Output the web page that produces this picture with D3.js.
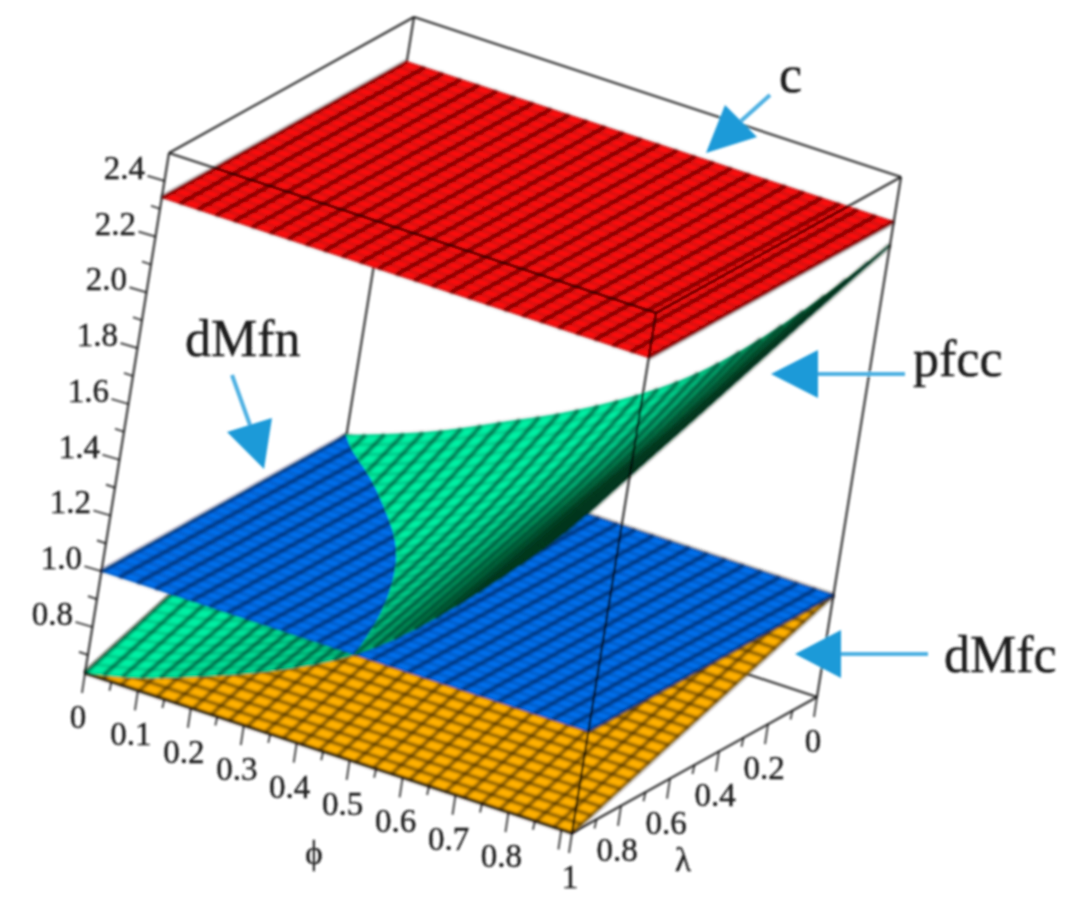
<!DOCTYPE html>
<html>
<head>
<meta charset="utf-8">
<script src="https://cdn.jsdelivr.net/npm/d3@7"></script>
<style>
  html, body { margin: 0; padding: 0; background: #fff; }
  text { font-family: "Liberation Serif", serif; fill: #1c1c1c; stroke: #1c1c1c; stroke-width: 0.4; }
</style>
</head>
<body>
<div id="chart"></div>
<script>
// axis ticks, as printed on the plot
var phiTicks = [0, 0.1, 0.2, 0.3, 0.4, 0.5, 0.6, 0.7, 0.8];
var phiMinor = [0.05, 0.15, 0.25, 0.35, 0.45, 0.55, 0.65, 0.75, 0.85, 0.9];
var phiEnd = 0.92;
var lamTicks = [0, 0.2, 0.4, 0.6, 0.8];
var lamMinor = [0.1, 0.3, 0.5, 0.7, 0.9];
var zTicks = [0.8, 1.0, 1.2, 1.4, 1.6, 1.8, 2.0, 2.2, 2.4];
var zMinor = [0.7, 0.9, 1.1, 1.3, 1.5, 1.7, 1.9, 2.1, 2.3];
var zRange = [0.635, 2.5];

// surface heights
var lamEnds = [0, 1];
var cValues = [2.34, 2.34];
var dMfnValues = [1.0, 1.0];
var dMfcValues = [1.0, 0.635];

var phiGrid = [0, 0.092, 0.184, 0.276, 0.368, 0.46, 0.552, 0.644, 0.736, 0.828, 0.92];
var lamGrid = [0, 0.2, 0.4, 0.6, 0.8, 1];
var pfccLam0 = [1.000, 1.060, 1.130, 1.220, 1.300, 1.400, 1.510, 1.650, 1.830, 2.030, 2.256];
var pfccLam2 = [0.927, 0.955, 1.020, 1.096, 1.176, 1.274, 1.388, 1.544, 1.736, 1.946, 2.190];
var pfccLam4 = [0.854, 0.885, 0.930, 0.992, 1.072, 1.168, 1.296, 1.458, 1.652, 1.872, 2.124];
var pfccLam6 = [0.781, 0.805, 0.850, 0.918, 0.998, 1.092, 1.224, 1.392, 1.588, 1.798, 2.058];
var pfccLam8 = [0.708, 0.735, 0.790, 0.854, 0.934, 1.026, 1.162, 1.326, 1.524, 1.734, 1.992];
var pfccLam10 = [0.635, 0.670, 0.736, 0.800, 0.880, 0.970, 1.100, 1.270, 1.460, 1.660, 1.926];

var W = 1077, H = 922, cells = 27;

var svg = d3.select("#chart").append("svg")
  .attr("width", W)
  .attr("height", H);

var defs = svg.append("defs");
function blurDef(id, amount) {
  defs.append("filter").attr("id", id)
    .attr("filterUnits", "userSpaceOnUse")
    .attr("x", 0).attr("y", 0)
    .attr("width", W).attr("height", H)
    .append("feGaussianBlur").attr("stdDeviation", amount);
}
blurDef("soft", 0.8);
blurDef("meshSoft", 0.9);

var root = svg.append("g").attr("filter", "url(#soft)");

// the box is a plain affine projection, one pair of scales per axis
var originX = 85, originY = 673;
var phiX = d3.scaleLinear().domain([0, phiEnd]).range([0, 487]);
var phiY = d3.scaleLinear().domain([0, phiEnd]).range([0, 160]);
var lamX = d3.scaleLinear().domain([1, 0]).range([0, 245]);
var lamY = d3.scaleLinear().domain([1, 0]).range([0, -136]);
var zX = d3.scaleLinear().domain(zRange).range([0, 84]);
var zY = d3.scaleLinear().domain(zRange).range([0, -520]);

function project(phi, lam, z) {
  return [originX + phiX(phi) + lamX(lam) + zX(z),
          originY + phiY(phi) + lamY(lam) + zY(z)];
}
function toScreen(p) { return project(p[0], p[1], p[2]); }

var line = d3.line();

function lamFlat(values) {
  var s = d3.scaleLinear().domain(lamEnds).range(values);
  return function(phi, lam) { return s(lam); };
}

var pfccRows = [pfccLam0, pfccLam2, pfccLam4, pfccLam6, pfccLam8, pfccLam10].map(function(r) {
  return d3.interpolateBasis(r);
});
function pfcc(phi, lam) {
  var t = phi / phiEnd;
  return d3.interpolateBasis(pfccRows.map(function(f) { return f(t); }))(lam / lamGrid[lamGrid.length-1]);
}

var greenShade = d3.scaleLinear()
  .domain([-0.1, 0.3, 0.42, 0.72, 1.15])
  .range(["#002e14", "#004a22", "#078a50", "#00c284", "#00f0a4"])
  .clamp(true);

// cut a polygon or a segment against the plane z = level, keeping one side
function clipZ(pts, level, above, closed) {
  var out = [], n = pts.length, m = closed ? n : n - 1;
  function inside(p) { return above ? p[2] >= level : p[2] <= level; }
  if (!closed && inside(pts[0])) out.push(pts[0]);
  for (var i = 0; i < m; i++) {
    var a = pts[i], b = pts[(i + 1) % n];
    if (inside(a) !== inside(b)) {
      var t = (level - a[2]) / (b[2] - a[2]);
      out.push([a[0] + t * (b[0] - a[0]), a[1] + t * (b[1] - a[1]), level]);
    }
    if (inside(b)) out.push(b);
  }
  return out;
}

var flatArea = Math.abs(d3.polygonArea([
  project(0, 1, 1), project(phiEnd / cells, 1, 1),
  project(phiEnd / cells, 1 - 1 / cells, 1), project(0, 1 - 1 / cells, 1)
]));

function drawSurface(f, opt) {
  var g = root.append("g").attr("class", opt.name);
  var along = "", across = "";
  var cut = function(pts, closed) {
    return opt.side === undefined ? pts : clipZ(pts, dMfnValues[0], opt.side, closed);
  };
  var phiAt = function(i) { return phiEnd * i / cells; };
  var lamAt = function(j) { return j / cells; };
  var cellList = [];
  d3.range(cells).forEach(function(i) {
    d3.range(cells).forEach(function(j) {
      var q = [[phiAt(i), lamAt(j)], [phiAt(i + 1), lamAt(j)], [phiAt(i + 1), lamAt(j + 1)], [phiAt(i), lamAt(j + 1)]]
        .map(function(p) { return [p[0], p[1], f(p[0], p[1])]; });
      var poly = cut(q, true);
      if (poly.length < 3) return;
      cellList.push({
        poly: poly,
        depth: d3.mean(q, function(p) { return p[2]; }),
        fill: opt.color || greenShade(-d3.polygonArea(q.map(toScreen)) / flatArea)
      });
    });
  });
  // seen from above, the higher cell goes on top
  cellList.sort(function(a, b) { return d3.ascending(a.depth, b.depth); });
  g.selectAll("path.cell")
    .data(cellList)
    .enter()
    .append("path")
    .attr("class", "cell")
    .attr("d", function(d) { return line(d.poly.map(toScreen)) + "Z"; })
    .attr("fill", function(d) { return d.fill; })
    .attr("stroke", function(d) { return d.fill; })
    .attr("stroke-width", 0.7);

  d3.range(cells + 1).forEach(function(i) {
    d3.range(cells).forEach(function(j) {
      var a = [phiAt(i), lamAt(j)], b = [phiAt(i), lamAt(j + 1)];
      var s = cut([[a[0], a[1], f(a[0], a[1])], [b[0], b[1], f(b[0], b[1])]], false);
      if (s.length === 2) along += line(s.map(toScreen));
      a = [phiAt(j), lamAt(i)];
      b = [phiAt(j + 1), lamAt(i)];
      s = cut([[a[0], a[1], f(a[0], a[1])], [b[0], b[1], f(b[0], b[1])]], false);
      if (s.length === 2) across += line(s.map(toScreen));
    });
  });
  var mesh = g.append("g").attr("filter", "url(#meshSoft)");
  mesh.append("path").attr("d", across)
    .attr("fill", "none").attr("stroke", opt.lineColor)
    .attr("stroke-opacity", opt.acrossOpacity)
    .attr("stroke-width", opt.acrossWidth);
  mesh.append("path").attr("d", along)
    .attr("fill", "none").attr("stroke", opt.lineColor)
    .attr("stroke-opacity", opt.alongOpacity)
    .attr("stroke-width", opt.alongWidth);
}

function boxEdge(g, a, b) {
  g.append("path")
    .attr("d", line([toScreen(a), toScreen(b)]))
    .attr("fill", "none")
    .attr("stroke", "#000")
    .attr("stroke-opacity", 0.68)
    .attr("stroke-width", 2.6);
}

var zLo = zRange[0], zHi = zRange[1];

var backBox = root.append("g");
boxEdge(backBox, [0, 0, zLo], [0, 0, zHi]);
boxEdge(backBox, [0, 0, zHi], [phiEnd, 0, zHi]);
boxEdge(backBox, [0, 0, zHi], [0, 1, zHi]);
boxEdge(backBox, [0, 0, zLo], [phiEnd, 0, zLo]);
boxEdge(backBox, [0, 0, zLo], [0, 1, zLo]);

var stripeGreen = {lineColor: "#00301a", alongOpacity: 0.6, alongWidth: 4, acrossOpacity: 0.22, acrossWidth: 2.6};

drawSurface(lamFlat(dMfcValues), {name: "dMfc", color: "#ffb000", lineColor: "#3a2400",
  alongOpacity: 0.62, alongWidth: 3.6, acrossOpacity: 0.6, acrossWidth: 3.4});
drawSurface(pfcc, Object.assign({name: "pfcc-low", side: false}, stripeGreen));
drawSurface(lamFlat(dMfnValues), {name: "dMfn", color: "#0070ec", lineColor: "#001a50",
  alongOpacity: 0.66, alongWidth: 4, acrossOpacity: 0.24, acrossWidth: 2.6});
drawSurface(pfcc, Object.assign({name: "pfcc-high", side: true}, stripeGreen));
drawSurface(lamFlat(cValues), {name: "c", color: "#ff0a0a", lineColor: "#300000",
  alongOpacity: 0.62, alongWidth: 4, acrossOpacity: 0.24, acrossWidth: 2.6});

var frontBox = root.append("g");
boxEdge(frontBox, [0, 1, zLo], [0, 1, zHi]);
boxEdge(frontBox, [phiEnd, 1, zLo], [phiEnd, 1, zHi]);
boxEdge(frontBox, [phiEnd, 0, zLo], [phiEnd, 0, zHi]);
boxEdge(frontBox, [0, 1, zHi], [phiEnd, 1, zHi]);
boxEdge(frontBox, [phiEnd, 1, zHi], [phiEnd, 0, zHi]);
boxEdge(frontBox, [0, 1, zLo], [phiEnd, 1, zLo]);
boxEdge(frontBox, [phiEnd, 1, zLo], [phiEnd, 0, zLo]);

function tick(g, base, dx, dy) {
  g.append("path")
    .attr("d", line([base, [base[0] + dx, base[1] + dy]]))
    .attr("fill", "none")
    .attr("stroke", "#000")
    .attr("stroke-opacity", 0.65)
    .attr("stroke-width", 2.2);
}
function tickLabel(g, base, dx, dy, txt) {
  g.append("text")
    .attr("x", base[0] + dx)
    .attr("y", base[1] + dy)
    .attr("text-anchor", "middle")
    .attr("dominant-baseline", "central")
    .attr("font-size", 33)
    .text(txt);
}

var axes = root.append("g");
zTicks.forEach(function(v) {
  var p = project(0, 1, v);
  tick(axes, p, -17, -5);
  tickLabel(axes, p, -40, -13, v.toFixed(1));
});
zMinor.forEach(function(v) { tick(axes, project(0, 1, v), -9, -3); });

phiTicks.forEach(function(v) {
  var p = project(v, 1, zLo);
  tick(axes, p, -3, 20);
  tickLabel(axes, p, -7, 44, v === 0 ? "0" : v.toFixed(1));
});
phiMinor.forEach(function(v) {
  var long = v === 0.9;
  tick(axes, project(v, 1, zLo), long ? -3 : -2, long ? 20 : 9);
});
tick(axes, project(phiEnd, 1, zLo), -3, 20);
tickLabel(axes, project(phiEnd, 1, zLo), -2, 44, "1");

lamTicks.forEach(function(v) {
  var p = project(phiEnd, v, zLo);
  tick(axes, p, -3, 20);
  tickLabel(axes, p, -4, 44, v === 0 ? "0" : v.toFixed(1));
});
lamMinor.forEach(function(v) { tick(axes, project(phiEnd, v, zLo), -2, 9); });

axes.append("text").attr("x", 314).attr("y", 853)
  .attr("text-anchor", "middle").attr("dominant-baseline", "central")
  .attr("font-size", 33).text("\u03d5");
axes.append("text").attr("x", 683).attr("y", 860)
  .attr("text-anchor", "middle").attr("dominant-baseline", "central")
  .attr("font-size", 33).text("\u03bb");

// hand-placed callouts
function callout(from, neck, tip, b1, b2) {
  root.append("path")
    .attr("d", line([from, neck]))
    .attr("fill", "none")
    .attr("stroke", "#4eb0e2")
    .attr("stroke-width", 4);
  root.append("path")
    .attr("d", line([tip, b1, b2]) + "Z")
    .attr("fill", "#1f9ad8");
}
callout([770, 95], [741, 121], [706, 153], [725, 105], [757, 137]);
callout([905, 374], [818, 374], [771, 374], [818, 350], [818, 398]);
callout([928, 654], [841, 654], [795, 654], [841, 630], [841, 678]);
callout([232, 375], [250, 425], [264, 469], [227, 432], [272, 418]);

function bigLabel(x, y, txt) {
  root.append("text")
    .attr("x", x).attr("y", y)
    .attr("font-size", 52)
    .text(txt);
}
bigLabel(779, 92, "c");
bigLabel(185, 356, "dMfn");
bigLabel(913, 376, "pfcc");
bigLabel(944, 672, "dMfc");
</script>
</body>
</html>
